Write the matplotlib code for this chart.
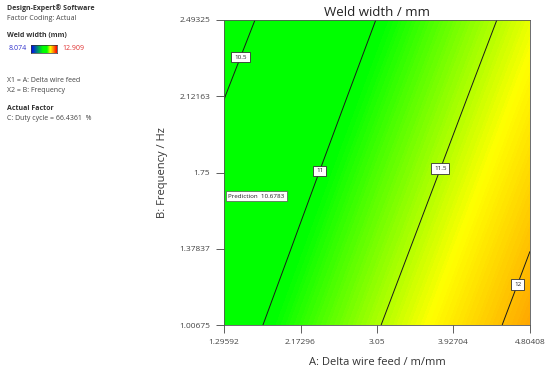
import matplotlib
matplotlib.use("Agg")
import matplotlib.pyplot as plt
import numpy as np
from matplotlib.colors import LinearSegmentedColormap, Normalize

# factor levels (tick positions) and weld width
delta_feed = [1.29592, 2.17296, 3.05, 3.92704, 4.80408]
frequency = [1.00675, 1.37837, 1.75, 2.12163, 2.49325]
weld_width = [
    [10.835, 11.159, 11.483, 11.799, 12.115],
    [10.717, 11.040, 11.363, 11.680, 11.996],
    [10.600, 10.922, 11.244, 11.560, 11.876],
    [10.495, 10.804, 11.124, 11.441, 11.757],
    [10.372, 10.688, 11.005, 11.321, 11.637],
]
contour_levels = [10.5, 11, 11.5, 12]
label_spots = [(1.479, 2.314), (2.362, 1.763), (3.750, 1.773), (4.645, 1.207)]
w_min, w_max = 8.074, 12.909
prediction = 10.6783

plt.rcParams['font.family'] = ['Open Sans', 'DejaVu Sans']

# Design-Expert style colour ramp, stops in response units
stops = [(8.074, '#0000ff'), (10.3, '#00ff00'), (11.05, '#00ff00'),
         (11.7, '#ffff00'), (12.909, '#ff0000')]
cmap = LinearSegmentedColormap.from_list(
    'dx', [((v - w_min) / (w_max - w_min), c) for v, c in stops])
norm = Normalize(w_min, w_max)

fig = plt.figure(figsize=(5.5, 3.73), dpi=100)
ax = fig.add_axes([224 / 550, 1 - 325 / 373, 306 / 550, 305 / 373])

A, F = np.meshgrid(delta_feed, frequency)
W = np.array(weld_width)
fill_levels = np.linspace(W.min() - 0.01, W.max() + 0.01, 250)
cf = ax.contourf(A, F, W, levels=fill_levels, cmap=cmap, norm=norm,
                 antialiased=False)
cs = ax.contour(A, F, W, levels=contour_levels, colors='#1a1a1a', linewidths=0.7)
labels = ax.clabel(cs, fmt={10.5: '10.5', 11: '11', 11.5: '11.5', 12: '12'},
                   manual=label_spots, inline=False, fontsize=4.5)
for t in labels:
    t.set_rotation(0)
    t.set_color('#222222')
    t.set_bbox(dict(boxstyle='square,pad=0.45', fc='white', ec='#333333', lw=0.6))

ax.text(delta_feed[0] + 0.05, 1.634, 'Prediction  %.4f' % prediction, fontsize=4.5,
        color='#222222', va='center', ha='left',
        bbox=dict(boxstyle='square,pad=0.4', fc='white', ec='#555555', lw=0.5))

ax.set_xlim(delta_feed[0], delta_feed[-1])
ax.set_ylim(frequency[0], frequency[-1])
ax.set_xticks(delta_feed)
ax.set_xticklabels([str(v) for v in delta_feed])
ax.set_yticks(frequency)
ax.set_yticklabels([str(v) for v in frequency])
ax.tick_params(labelsize=6, colors='#444444', length=6, width=0.6, pad=4)
for s in ax.spines.values():
    s.set_color('#555555')
    s.set_linewidth(0.6)

ax.set_title('Weld width / mm', fontsize=9.5, color='#222222', pad=3)
ax.set_xlabel('A: Delta wire feed / m/mm', fontsize=8, color='#333333', labelpad=8)
ax.set_ylabel('B: Frequency / Hz', fontsize=8, color='#333333', labelpad=8)

# left info panel
def px(x, y):
    return x / 550, 1 - y / 373

fig.text(*px(7, 8), 'Design-Expert® Software', fontsize=5, weight='bold',
         color='#333333', va='center')
fig.text(*px(7, 18), 'Factor Coding: Actual', fontsize=5, color='#444444', va='center')
fig.text(*px(7, 36), 'Weld width (mm)', fontsize=5, weight='bold',
         color='#333333', va='center')
fig.text(*px(9, 49), str(w_min), fontsize=5, color='#3333cc', va='center')
fig.text(*px(62, 49), str(w_max), fontsize=5, color='#e03030', va='center')
cax = fig.add_axes([31 / 550, 1 - 53 / 373, 26 / 550, 8 / 373])
cax.imshow(np.linspace(0, 1, 100)[None, :], aspect='auto', cmap=cmap)
cax.set_xticks([])
cax.set_yticks([])
for s in cax.spines.values():
    s.set_color('#333333')
    s.set_linewidth(0.5)
fig.text(*px(7, 80), 'X1 = A: Delta wire feed', fontsize=5, color='#444444', va='center')
fig.text(*px(7, 90), 'X2 = B: Frequency', fontsize=5, color='#444444', va='center')
fig.text(*px(7, 109), 'Actual Factor', fontsize=5, weight='bold',
         color='#333333', va='center')
fig.text(*px(7, 118), 'C: Duty cycle = 66.4361  %', fontsize=5, color='#444444',
         va='center')

fig.savefig('out.png', dpi=100)
